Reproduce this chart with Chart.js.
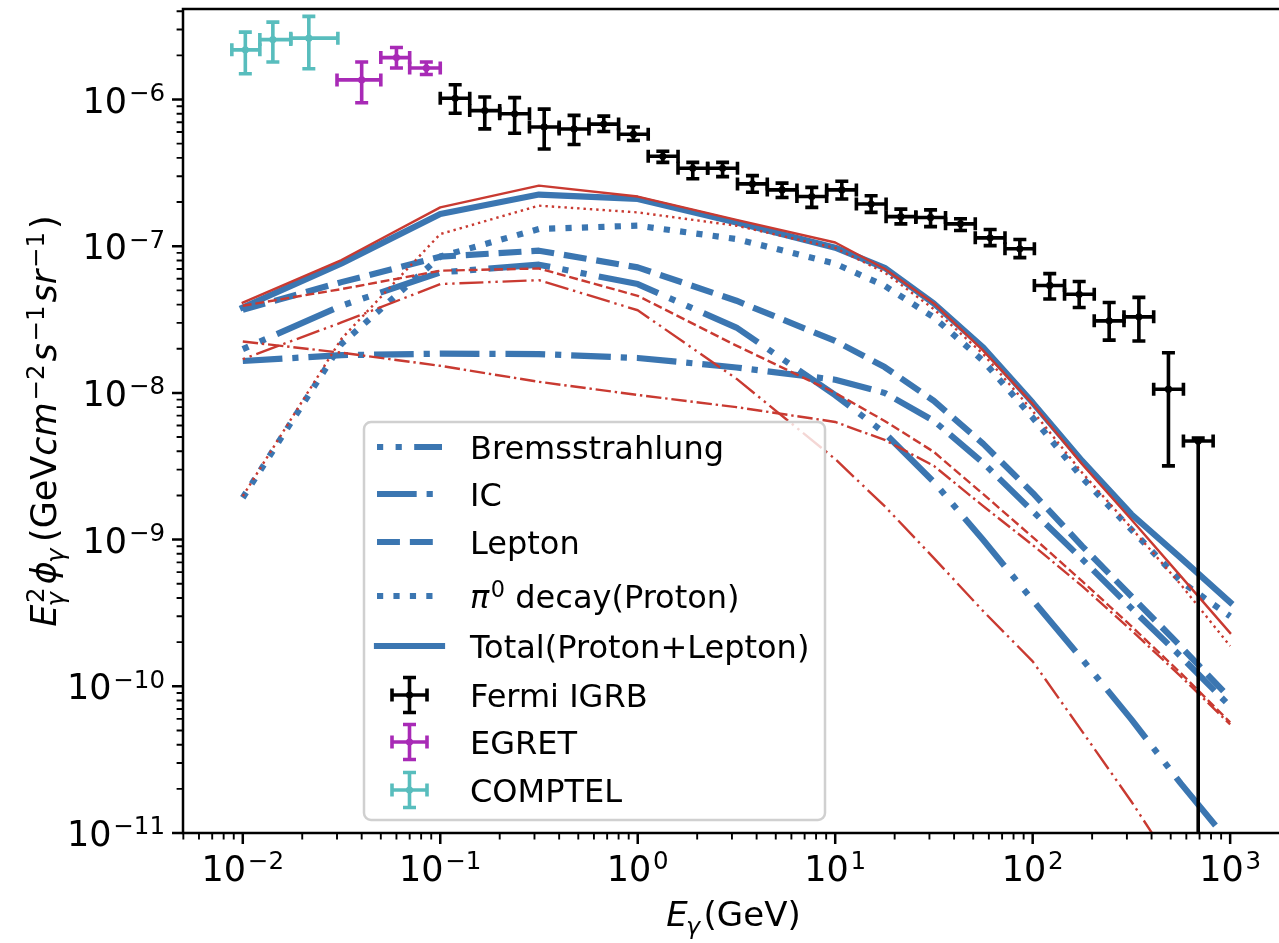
<!DOCTYPE html>
<html>
<head>
<meta charset="utf-8">
<script src="https://cdn.jsdelivr.net/npm/chart.js@4.4.1/dist/chart.umd.min.js"></script>
<style>
  html, body { margin: 0; padding: 0; background: #fff; overflow: hidden; }
  #wrap { width: 1279px; height: 943px; overflow: hidden; }
</style>
</head>
<body>
<div id="wrap"><canvas id="chart" width="1279" height="943"></canvas></div>
<script>
// ---- model curves, E^2 flux vs energy (GeV) ----
const modelE = [0.01, 0.0316, 0.1, 0.316, 1, 3.16, 10, 17.8, 31.6, 56.2, 100, 178, 316, 562, 1000];

const blueBrems  = [1.99e-8, 3.93e-8, 6.63e-8, 7.48e-8, 5.52e-8, 2.79e-8, 9.65e-9, 5.33e-9, 2.47e-9, 9.92e-10, 3.86e-10, 1.53e-10, 5.95e-11, 2.18e-11, 8.5e-12];
const blueIC     = [1.65e-8, 1.81e-8, 1.85e-8, 1.84e-8, 1.73e-8, 1.49e-8, 1.23e-8, 1.0e-8, 6.44e-9, 3.33e-9, 1.56e-9, 7.36e-10, 3.41e-10, 1.60e-10, 7.3e-11];
const blueLepton = [3.69e-8, 5.69e-8, 8.48e-8, 9.32e-8, 7.17e-8, 4.25e-8, 2.26e-8, 1.50e-8, 8.82e-9, 4.49e-9, 2.08e-9, 9.03e-10, 4.11e-10, 1.87e-10, 8.28e-11];
const bluePion   = [1.93e-9, 2.16e-8, 8.5e-8, 1.31e-7, 1.38e-7, 1.12e-7, 7.6e-8, 5.37e-8, 3.27e-8, 1.65e-8, 6.78e-9, 2.64e-9, 1.17e-9, 5.2e-10, 3.0e-10];
const blueTotal  = [3.82e-8, 7.64e-8, 1.66e-7, 2.25e-7, 2.10e-7, 1.45e-7, 9.77e-8, 7.13e-8, 4.07e-8, 2.04e-8, 8.58e-9, 3.44e-9, 1.49e-9, 7.51e-10, 3.74e-10];

const redBrems  = [1.70e-8, 3.02e-8, 5.52e-8, 5.87e-8, 3.66e-8, 1.25e-8, 3.54e-9, 1.69e-9, 7.48e-10, 3.25e-10, 1.48e-10, 4.93e-11, 1.64e-11, 5e-12, 1.5e-12];
const redIC     = [2.24e-8, 1.88e-8, 1.53e-8, 1.19e-8, 9.68e-9, 8.0e-9, 6.34e-9, 4.78e-9, 3.18e-9, 1.69e-9, 9.17e-10, 4.82e-10, 2.41e-10, 1.17e-10, 5.5e-11];
const redLepton = [3.93e-8, 5.10e-8, 6.81e-8, 7.05e-8, 4.59e-8, 2.1e-8, 1.0e-8, 6.44e-9, 3.96e-9, 2.04e-9, 1.04e-9, 5.21e-10, 2.57e-10, 1.23e-10, 5.68e-11];
const redPion   = [1.98e-9, 2.34e-8, 1.21e-7, 1.89e-7, 1.70e-7, 1.38e-7, 9.73e-8, 6.62e-8, 3.72e-8, 1.84e-8, 7.53e-9, 2.86e-9, 1.2e-9, 4.94e-10, 1.88e-10];
const redTotal  = [4.13e-8, 8.05e-8, 1.84e-7, 2.59e-7, 2.18e-7, 1.51e-7, 1.06e-7, 7.02e-8, 4.07e-8, 1.94e-8, 8.41e-9, 3.27e-9, 1.37e-9, 5.64e-10, 2.31e-10];

// ---- measurements ----
const fermiE    = [0.119, 0.168, 0.238, 0.336, 0.476, 0.673, 0.951, 1.34, 1.90, 2.69, 3.81, 5.38, 7.61, 10.8, 15.2, 21.5, 30.4, 43.1, 60.9, 86.1, 122, 172, 244, 345, 487, 689];
const fermiELo  = [0.1, 0.141, 0.2, 0.283, 0.4, 0.566, 0.8, 1.13, 1.6, 2.26, 3.2, 4.53, 6.4, 9.05, 12.8, 18.1, 25.6, 36.2, 51.2, 72.4, 102, 145, 205, 290, 410, 580];
const fermiEHi  = [0.141, 0.2, 0.283, 0.4, 0.566, 0.8, 1.13, 1.6, 2.26, 3.2, 4.53, 6.4, 9.05, 12.8, 18.1, 25.6, 36.2, 51.2, 72.4, 102, 145, 205, 290, 410, 580, 820];
const fermiFlux = [1.02e-6, 8.4e-7, 8.0e-7, 6.5e-7, 6.3e-7, 6.8e-7, 5.8e-7, 4.1e-7, 3.4e-7, 3.4e-7, 2.66e-7, 2.42e-7, 2.18e-7, 2.42e-7, 1.94e-7, 1.59e-7, 1.57e-7, 1.42e-7, 1.14e-7, 9.6e-8, 5.4e-8, 4.7e-8, 3.1e-8, 3.3e-8, 1.06e-8, 4.7e-9];
const fermiHi   = [1.26e-6, 1.04e-6, 1.03e-6, 8.6e-7, 7.8e-7, 7.7e-7, 6.5e-7, 4.44e-7, 3.73e-7, 3.73e-7, 3.03e-7, 2.69e-7, 2.52e-7, 2.77e-7, 2.21e-7, 1.79e-7, 1.77e-7, 1.54e-7, 1.30e-7, 1.11e-7, 6.5e-8, 5.75e-8, 4.13e-8, 4.48e-8, 1.88e-8, 4.93e-9];
const fermiLo   = [8.06e-7, 6.31e-7, 5.89e-7, 4.6e-7, 4.93e-7, 6.05e-7, 5.25e-7, 3.73e-7, 2.88e-7, 2.98e-7, 2.33e-7, 2.15e-7, 1.84e-7, 2.1e-7, 1.7e-7, 1.42e-7, 1.36e-7, 1.28e-7, 1.01e-7, 8.36e-8, 4.37e-8, 3.82e-8, 2.29e-8, 2.26e-8, 3.18e-9, 1e-14];

const egretE    = [0.04, 0.06, 0.085];
const egretELo  = [0.03, 0.05, 0.07];
const egretEHi  = [0.05, 0.07, 0.1];
const egretFlux = [1.36e-6, 1.93e-6, 1.64e-6];
const egretHi   = [1.80e-6, 2.26e-6, 1.80e-6];
const egretLo   = [9.5e-7, 1.64e-6, 1.48e-6];

const comptelE    = [0.0103, 0.0142, 0.0216];
const comptelELo  = [0.0088, 0.0122, 0.0175];
const comptelEHi  = [0.0122, 0.0175, 0.0303];
const comptelFlux = [2.18e-6, 2.56e-6, 2.62e-6];
const comptelHi   = [2.88e-6, 3.37e-6, 3.69e-6];
const comptelLo   = [1.50e-6, 1.80e-6, 1.62e-6];

// ---- axes ----
const xTickExp = [-2, -1, 0, 1, 2, 3];
const yTickExp = [-11, -10, -9, -8, -7, -6];
const curveNames = ['Bremsstrahlung', 'IC', 'Lepton', 'π0 decay(Proton)', 'Total(Proton+Lepton)'];
const pointNames = ['Fermi IGRB', 'EGRET', 'COMPTEL'];

const BLUE = '#3b76b1', RED = '#c93a31';
const LW_B = 6.2, LW_R = 2.4;
const FONT = '"DejaVu Sans", sans-serif';
const FS = 32;        // legend
const FS_TICK = 35;   // tick labels
const FS_LAB = 34;    // axis titles

const dashPatterns = [
  [1, 2, 1, 2, 10, 2],   // brems
  [6.4, 1.6, 1, 1.6],    // IC
  [3.7, 1.6],            // lepton
  [1, 1.65],             // pi0
  []                     // total
];

function fnt(size, it) { return (it ? 'italic ' : '') + size + 'px ' + FONT; }

function curve(label, values, color, lw, dash, order) {
  return {
    label: label,
    data: modelE.map((e, i) => ({ x: e, y: values[i] })),
    showLine: true,
    borderColor: color,
    backgroundColor: color,
    borderWidth: lw,
    borderDash: dash.map(v => v * lw),
    borderCapStyle: dash.length ? 'butt' : 'square',
    borderJoinStyle: 'round',
    pointRadius: 0,
    pointHoverRadius: 0,
    tension: 0,
    fill: false,
    clip: 0,
    order: order
  };
}

function points(label, e, f, eLo, eHi, fLo, fHi, color) {
  return {
    label: label,
    data: e.map((v, i) => ({ x: v, y: f[i] })),
    showLine: false,
    borderColor: color,
    backgroundColor: color,
    pointRadius: 3.6,
    pointBorderWidth: 0,
    clip: 0,
    order: 0,
    err: { xLo: eLo, xHi: eHi, yLo: fLo, yHi: fHi }
  };
}

const blueSeries = [blueBrems, blueIC, blueLepton, bluePion, blueTotal];
const redSeries = [redBrems, redIC, redLepton, redPion, redTotal];

const datasets = [];
blueSeries.forEach((s, i) => {
  const ds = curve(curveNames[i], s, BLUE, LW_B, dashPatterns[i], 2);
  ds.inLegend = true;
  datasets.push(ds);
});
redSeries.forEach((s, i) => datasets.push(curve(curveNames[i] + ' (alt)', s, RED, LW_R, dashPatterns[i], 1)));
[
  points(pointNames[0], fermiE, fermiFlux, fermiELo, fermiEHi, fermiLo, fermiHi, '#000000'),
  points(pointNames[1], egretE, egretFlux, egretELo, egretEHi, egretLo, egretHi, '#a82ab6'),
  points(pointNames[2], comptelE, comptelFlux, comptelELo, comptelEHi, comptelLo, comptelHi, '#58bdbd')
].forEach(ds => { ds.inLegend = true; datasets.push(ds); });

// rich text (mathtext-like) helpers; gap = space after a sub/superscript
function layoutRich(ctx, parts, size, gap) {
  let w = 0;
  const items = [];
  parts.forEach(p => {
    ctx.font = fnt(size, p.it);
    const mw = ctx.measureText(p.t).width;
    let sw = 0;
    if (p.sup || p.sub) {
      ctx.font = fnt(size * 0.7, false);
      const a = p.sup ? ctx.measureText(p.sup).width : 0;
      ctx.font = fnt(size * 0.7, true);
      const b = p.sub ? ctx.measureText(p.sub).width : 0;
      sw = Math.max(a, b) + size * 0.05 + gap;
    }
    items.push({ p: p, x: w, mw: mw });
    w += mw + sw;
  });
  return { items: items, w: w };
}

function drawRich(ctx, parts, x, y, size, align, gap) {
  gap = gap || 0;
  const L = layoutRich(ctx, parts, size, gap);
  const x0 = align === 'center' ? x - L.w / 2 : align === 'right' ? x - L.w : x;
  ctx.textAlign = 'left';
  ctx.textBaseline = 'alphabetic';
  L.items.forEach(it => {
    const p = it.p;
    ctx.font = fnt(size, p.it);
    ctx.fillText(p.t, x0 + it.x, y);
    const sx = x0 + it.x + it.mw + size * 0.05;
    if (p.sup) {
      ctx.font = fnt(size * 0.7, false);
      ctx.fillText(p.sup, sx, y - size * 0.33);
    }
    if (p.sub) {
      ctx.font = fnt(size * 0.7, true);
      ctx.fillText(p.sub, sx - (p.it ? size * 0.1 : 0), y + size * 0.24);
    }
  });
}

function labelParts(name) {
  if (name.indexOf('π0') === 0) return [{ t: 'π', it: true, sup: '0' }, { t: name.slice(2) }];
  return [{ t: name }];
}

const errorBars = {
  id: 'errorBars',
  afterDatasetsDraw(chart) {
    const { ctx, chartArea: a, scales: { x, y } } = chart;
    ctx.save();
    ctx.beginPath();
    ctx.rect(a.left, a.top, a.right - a.left, a.bottom - a.top);
    ctx.clip();
    chart.data.datasets.forEach(ds => {
      if (!ds.err) return;
      ctx.strokeStyle = ds.borderColor;
      ctx.lineWidth = 3.6;
      ctx.lineCap = 'butt';
      const cap = 6.5;
      ds.data.forEach((p, i) => {
        const px = x.getPixelForValue(p.x), py = y.getPixelForValue(p.y);
        const x0 = x.getPixelForValue(ds.err.xLo[i]), x1 = x.getPixelForValue(ds.err.xHi[i]);
        const y0 = y.getPixelForValue(ds.err.yLo[i]), y1 = y.getPixelForValue(ds.err.yHi[i]);
        ctx.beginPath();
        ctx.moveTo(x0, py); ctx.lineTo(x1, py);
        ctx.moveTo(px, y0); ctx.lineTo(px, y1);
        ctx.moveTo(x0, py - cap); ctx.lineTo(x0, py + cap);
        ctx.moveTo(x1, py - cap); ctx.lineTo(x1, py + cap);
        ctx.moveTo(px - cap, y0); ctx.lineTo(px + cap, y0);
        ctx.moveTo(px - cap, y1); ctx.lineTo(px + cap, y1);
        ctx.stroke();
      });
    });
    ctx.restore();
  }
};

function minorTicks(min, max) {
  const out = [];
  for (let p = Math.floor(Math.log10(min)); p <= Math.ceil(Math.log10(max)); p++) {
    for (let m = 2; m <= 9; m++) {
      const v = m * Math.pow(10, p);
      if (v >= min && v <= max) out.push(v);
    }
  }
  return out;
}

const mplAxes = {
  id: 'mplAxes',
  afterDraw(chart) {
    const { ctx, chartArea: a, scales: { x, y } } = chart;
    ctx.save();
    ctx.strokeStyle = '#000';
    ctx.fillStyle = '#000';
    // ticks
    ctx.lineWidth = 1.9;
    ctx.beginPath();
    minorTicks(x.min, x.max).forEach(v => {
      const px = x.getPixelForValue(v);
      ctx.moveTo(px, a.bottom); ctx.lineTo(px, a.bottom + 6.4);
    });
    minorTicks(y.min, y.max).forEach(v => {
      const py = y.getPixelForValue(v);
      ctx.moveTo(a.left, py); ctx.lineTo(a.left - 6.4, py);
    });
    ctx.stroke();
    ctx.lineWidth = 2.5;
    ctx.beginPath();
    xTickExp.forEach(e => {
      const px = x.getPixelForValue(Math.pow(10, e));
      ctx.moveTo(px, a.bottom); ctx.lineTo(px, a.bottom + 11);
    });
    yTickExp.forEach(e => {
      const py = y.getPixelForValue(Math.pow(10, e));
      ctx.moveTo(a.left, py); ctx.lineTo(a.left - 11, py);
    });
    ctx.stroke();
    // spines: left, top, bottom (the right one sits just beyond the frame)
    ctx.lineWidth = 2.5;
    ctx.beginPath();
    ctx.moveTo(a.right + 5, a.top); ctx.lineTo(a.left, a.top);
    ctx.lineTo(a.left, a.bottom); ctx.lineTo(a.right + 5, a.bottom);
    ctx.stroke();
    // tick labels
    const neg = s => String(s).replace('-', '\u2212');
    xTickExp.forEach(e => {
      const px = x.getPixelForValue(Math.pow(10, e));
      drawRich(ctx, [{ t: '10', sup: neg(e) }], px, a.bottom + 22 + 26, FS_TICK, 'center');
    });
    yTickExp.forEach(e => {
      const py = y.getPixelForValue(Math.pow(10, e));
      drawRich(ctx, [{ t: '10', sup: neg(e) }], a.left - 18, py + 13, FS_TICK, 'right');
    });
    // axis titles (x title centred on the full axes box, whose right edge is at ~1284)
    drawRich(ctx, [{ t: 'E', it: true, sub: 'γ' }, { t: '(GeV)' }], (a.left + 1284) / 2, 926, FS_LAB, 'center');
    ctx.save();
    ctx.translate(56, (a.top + a.bottom) / 2);
    ctx.rotate(-Math.PI / 2);
    drawRich(ctx, [
      { t: 'E', it: true, sup: '2', sub: 'γ' },
      { t: 'ϕ', it: true, sub: 'γ' },
      { t: '(GeV' },
      { t: 'cm', it: true, sup: '\u22122' },
      { t: 's', it: true, sup: '\u22121' },
      { t: 'sr', it: true, sup: '\u22121' },
      { t: ')' }
    ], 0, 0, FS_LAB + 1, 'center', 3);
    ctx.restore();

    // legend
    const box = { l: 364, t: 422, r: 825, b: 820 };
    ctx.beginPath();
    ctx.roundRect(box.l, box.t, box.r - box.l, box.b - box.t, 7);
    ctx.fillStyle = 'rgba(255,255,255,0.8)';
    ctx.fill();
    ctx.strokeStyle = '#d0d0d0';
    ctx.lineWidth = 2.5;
    ctx.stroke();
    const rowY = [447, 494, 542, 596, 646, 695, 742, 790];
    const hx0 = 377, hx1 = 442, tx = 470;
    const items = chart.data.datasets.filter(d => d.inLegend);
    items.forEach((ds, i) => {
      const ry = rowY[i];
      ctx.save();
      if (ds.err) {
        const cx = (hx0 + hx1) / 2, h = 17.5, cap = 6.5;
        ctx.strokeStyle = ds.borderColor;
        ctx.lineWidth = 3.6;
        ctx.setLineDash([]);
        ctx.beginPath();
        ctx.moveTo(cx - h, ry); ctx.lineTo(cx + h, ry);
        ctx.moveTo(cx, ry - h); ctx.lineTo(cx, ry + h);
        ctx.moveTo(cx - h, ry - cap); ctx.lineTo(cx - h, ry + cap);
        ctx.moveTo(cx + h, ry - cap); ctx.lineTo(cx + h, ry + cap);
        ctx.moveTo(cx - cap, ry - h); ctx.lineTo(cx + cap, ry - h);
        ctx.moveTo(cx - cap, ry + h); ctx.lineTo(cx + cap, ry + h);
        ctx.stroke();
        ctx.fillStyle = ds.borderColor;
        ctx.beginPath(); ctx.arc(cx, ry, 3.6, 0, Math.PI * 2); ctx.fill();
      } else {
        ctx.strokeStyle = ds.borderColor;
        ctx.lineWidth = ds.borderWidth;
        ctx.lineCap = ds.borderCapStyle;
        ctx.setLineDash(ds.borderDash);
        ctx.beginPath();
        ctx.moveTo(hx0, ry); ctx.lineTo(hx1, ry);
        ctx.stroke();
      }
      ctx.restore();
      ctx.fillStyle = '#000';
      drawRich(ctx, labelParts(ds.label), tx, ry + 12, FS, 'left');
    });
    ctx.restore();
  }
};

new Chart(document.getElementById('chart'), {
  type: 'scatter',
  data: { datasets: datasets },
  options: {
    responsive: false,
    animation: false,
    devicePixelRatio: 1,
    layout: { padding: { left: 183, top: 9, right: 0, bottom: 110 } },
    plugins: { legend: { display: false }, tooltip: { enabled: false } },
    scales: {
      // x range is the visible part of the axes; the figure is cut at the right edge
      x: { type: 'logarithmic', min: 4.98e-3, max: 1687, display: false },
      y: { type: 'logarithmic', min: 1e-11, max: 4.14e-6, display: false }
    }
  },
  plugins: [errorBars, mplAxes]
});
</script>
</body>
</html>
